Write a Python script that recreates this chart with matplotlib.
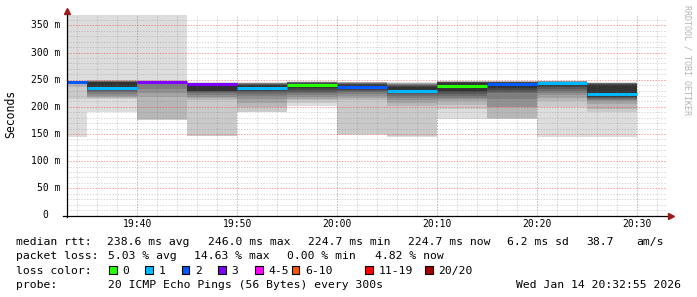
import numpy as np
import matplotlib
matplotlib.use("Agg")
import matplotlib.pyplot as plt
from matplotlib.patches import Rectangle
from matplotlib.transforms import blended_transform_factory

nan = np.nan

# ---------------- data ----------------
# start of each 5-minute step, minutes after 19:00
SEG_START = [30, 35, 40, 45, 50, 55, 60, 65, 70, 75, 80, 85]
SEG_LEN = 5
# sorted ping times per step (ms); nan = not present
PINGS = [
    [145, 215, 236, nan, nan, nan, nan, nan, nan, nan, nan, nan, nan, nan, nan, nan, nan, 246.5, 247, 420],
    [191, 214, 216, 218, 221, 224, 227, 229, 231, 233, 245, 246, 246.5, 247, 247.5, 248, 248.5, 249, 250, 420],
    [175, 176, 177, 218, 226, 233, 244, 244, 244, 244, 244, 244, 244, 244, 245, 246, 247, 248, 249, 420],
    [146, 146, 213, 216, 219, 222, 226, 228, 229, 230, 241, 242, 242.5, 243, 243.5, 244, 244.2, 244.5, 244.8, 245],
    [190, 191, 200, 208, 215, 220, 224, 227, 229, 231, 240, 241, 242, 243, 243.5, 244, 244.3, 244.6, 244.8, 245],
    [202, 207, 212, 215, 219, 222, 225, 228, 231, 235, 243, 244, 244.5, 245, 245.3, 245.6, 246, 246.3, 246.6, 247],
    [148, 150, 212, 217, 221, 224, 227, 229, 232, 234, 241, 242, 243, 243.5, 244, 244.5, 245, 245.3, 245.6, 246],
    [144, 147, 202, 207, 212, 216, 220, 224, 226, 228, 236, 239, 240, 241, 242, 243, 243.5, 244, 244.5, 245],
    [178, 197, 203, 210, 214, 217, 221, 224, 227, 230, 244, 245, 245.3, 245.6, 246, 246.3, 246.6, 247, 247.3, 247.6],
    [177, 178, 179, 199, 200, 214, 225, 228, 231, 234, 244, 245, 245.3, 245.6, 246, 246.3, 246.6, 247, 247.3, 247.6],
    [144, 199.5, 210, 217, 222, 226, 230, 233, 236, 238, 245, 245.5, 246, 246.3, 246.6, 247, 247.3, 247.6, 248, 248.3],
    [144, 191.5, 196, 205, 210, 213, 215, 217, 218, 219, 241, 242, 243, 243.5, 244, 244.2, 244.4, 244.6, 244.8, 245],
]
MEDIAN = [246.0, 235.2, 245.0, 241.5, 235.5, 241.0, 237.6, 230.0, 238.0, 242.5, 244.0, 224.7]
LOSS = [2, 1, 3, 3, 1, 0, 2, 1, 0, 2, 1, 1]

LOSS_UPPER = [0, 1, 2, 3, 5, 10, 19, 20]
LOSS_COLORS = ['#26ff00', '#00b8ff', '#0059ff', '#7e00ff', '#ff00ff', '#ff5500', '#ff0000', '#a00000']
LOSS_LABELS = ['0', '1', '2', '3', '4-5', '6-10', '11-19', '20/20']

SMOKE_COLORS = ['#dddddd', '#cacaca', '#b7b7b7', '#a4a4a4', '#919191',
                '#7e7e7e', '#6b6b6b', '#585858', '#454545', '#323232']

YTICKS = [0, 50, 100, 150, 200, 250, 300, 350]
YTICK_LABELS = ['0', '50 m', '100 m', '150 m', '200 m', '250 m', '300 m', '350 m']
XTICKS = [40, 50, 60, 70, 80, 90]
XTICK_LABELS = ['19:40', '19:50', '20:00', '20:10', '20:20', '20:30']

ROW1 = [('median rtt:', 16), ('238.6 ms avg', 107.3), ('246.0 ms max', 207.5), ('224.7 ms min', 308),
        ('224.7 ms now', 408), ('6.2 ms sd', 507), ('38.7', 586.6), ('am/s', 636)]
ROW2 = [('packet loss:', 16), ('5.03 % avg', 107.5), ('14.63 % max', 193.6), ('0.00 % min', 287),
        ('4.82 % now', 375.2)]
LOSS_BOX_X = [109, 145, 181.7, 218, 255, 291.7, 365, 425]
PROBE = '20 ICMP Echo Pings (56 Bytes) every 300s'
STAMP = 'Wed Jan 14 20:32:55 2026'

# ---------------- figure ----------------
W, H = 697, 297
fig = plt.figure(figsize=(W / 100, H / 100), dpi=100)
fig.patch.set_facecolor('white')
PX_PER_MS = 0.5429
AX_L, AX_R, AX_B, AX_T = 66.5, 666.5, 215.5, 15.0
ax = fig.add_axes([AX_L / W, 1 - AX_B / H, (AX_R - AX_L) / W, (AX_B - AX_T) / H])
ax.set_xlim(32 + 55 / 60, 92 + 55 / 60)
ax.set_ylim(0, (AX_B - AX_T) / PX_PER_MS)
ax.set_facecolor('white')
for s in ax.spines.values():
    s.set_visible(False)
ax.set_xticks([])
ax.set_yticks([])

# smoke
for st, p in zip(SEG_START, PINGS):
    for k in range(10):
        lo, hi = p[k], p[19 - k]
        if np.isnan(lo) or np.isnan(hi) or hi <= lo:
            continue
        ax.bar(st, hi - lo, bottom=lo, width=SEG_LEN, align='edge',
               color=SMOKE_COLORS[k], linewidth=0, zorder=2 + k * 0.01)

# grid on top of smoke
minor_c = (0.45, 0.45, 0.45, 0.27)
major_c = (0.95, 0.1, 0.1, 0.42)
for v in np.arange(10, 370, 10):
    major = (v % 50 == 0)
    ax.axhline(v, color=major_c if major else minor_c, lw=0.72,
               ls=(0, (1.4, 1.4)), zorder=3)
for t in np.arange(34, 93, 2):
    major = (t % 10 == 0)
    ax.axvline(t, color=major_c if major else minor_c, lw=0.72,
               ls=(0, (1.4, 1.4)), zorder=3)

# median lines
def loss_color(n):
    for ub, c in zip(LOSS_UPPER, LOSS_COLORS):
        if n <= ub:
            return c
    return LOSS_COLORS[-1]

for st, m, l in zip(SEG_START, MEDIAN, LOSS):
    ax.hlines(m, st, st + SEG_LEN, colors=loss_color(l), lw=2.2,
              capstyle='butt', zorder=5)

# axes lines and arrows
def fx(px):
    return px / W

def fy(py):
    return 1 - py / H

fig.add_artist(plt.Line2D([fx(AX_L), fx(AX_L)], [fy(AX_B + 1), fy(12)], color='black', lw=0.9))
fig.add_artist(plt.Line2D([fx(63), fx(669)], [fy(AX_B), fy(AX_B)], color='black', lw=0.9))
fig.add_artist(plt.Line2D([fx(AX_L)], [fy(10.5)], marker='^', ms=4.5, color='#9b1b1b', lw=0))
fig.add_artist(plt.Line2D([fx(671)], [fy(AX_B)], marker='>', ms=4.5, color='#9b1b1b', lw=0))

mono = 'DejaVu Sans Mono'
# y tick labels
ytr = blended_transform_factory(fig.transFigure, ax.transData)
for v, lab in zip(YTICKS, YTICK_LABELS):
    xr = 60 if lab.endswith('m') else 60 - 2 * 5.85
    fig.text(fx(xr), v, lab, transform=ytr, ha='right', va='center',
             fontsize=7, family=mono, color='black')
# x tick labels
xtr = blended_transform_factory(ax.transData, fig.transFigure)
for t, lab in zip(XTICKS, XTICK_LABELS):
    fig.text(t, fy(227), lab, transform=xtr, ha='center', va='baseline',
             fontsize=7, family=mono, color='black')

fig.text(fx(11), fy(113.5), 'Seconds', rotation=90, ha='center', va='center',
         fontsize=8.3, family=mono, color='black')
fig.text(fx(687.5), fy(60), 'RRDTOOL / TOBI OETIKER', rotation=270, ha='center', va='center',
         fontsize=6, family=mono, color='#b4b4b4')

# legend rows
FS = 8.2
for txt, x in ROW1:
    fig.text(fx(x), fy(245), txt, ha='left', va='baseline', fontsize=FS, family=mono)
for txt, x in ROW2:
    fig.text(fx(x), fy(259.3), txt, ha='left', va='baseline', fontsize=FS, family=mono)
fig.text(fx(16), fy(273.7), 'loss color:', ha='left', va='baseline', fontsize=FS, family=mono)
for bx, c, lab in zip(LOSS_BOX_X, LOSS_COLORS, LOSS_LABELS):
    fig.add_artist(Rectangle((fx(bx), fy(273.7)), 7.7 / W, 8 / H, transform=fig.transFigure,
                             facecolor=c, edgecolor='black', lw=0.8))
    fig.text(fx(bx + 13.5), fy(273.7), lab, ha='left', va='baseline', fontsize=FS, family=mono)
fig.text(fx(16), fy(287.7), 'probe:', ha='left', va='baseline', fontsize=FS, family=mono)
fig.text(fx(107.5), fy(287.7), PROBE, ha='left', va='baseline', fontsize=FS, family=mono)
fig.text(fx(681), fy(287.7), STAMP, ha='right', va='baseline', fontsize=FS, family=mono)

fig.savefig('out.png', dpi=100, facecolor='white')
